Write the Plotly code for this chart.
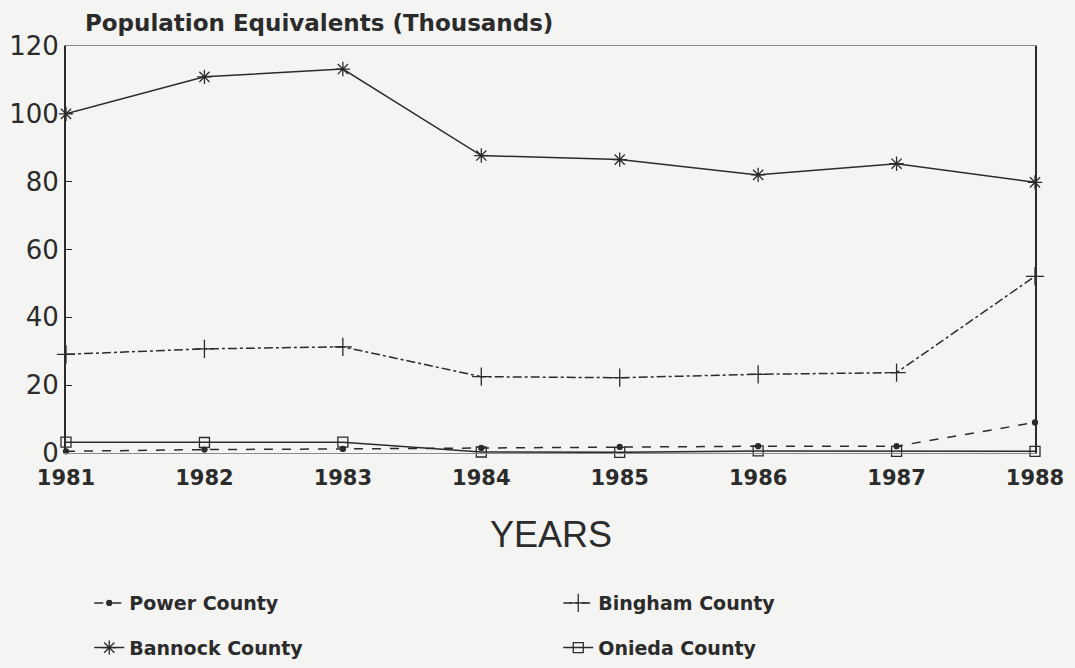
import plotly.graph_objects as go

# values (thousands of population equivalents)
years = [1981, 1982, 1983, 1984, 1985, 1986, 1987, 1988]
power = [0.5, 1.0, 1.2, 1.5, 1.8, 2.0, 2.0, 9.0]
bingham = [29.1, 30.7, 31.3, 22.5, 22.2, 23.2, 23.7, 52.1]
bannock = [100.0, 110.9, 113.2, 87.7, 86.5, 82.0, 85.3, 79.8]
onieda = [3.2, 3.1, 3.2, 0.3, 0.2, 0.6, 0.5, 0.5]
y_ticks = [0, 20, 40, 60, 80, 100, 120]

INK = "#2b2b2b"
PAPER = "#f4f4f2"

fig = go.Figure()

series = [
    # name, values, marker symbol, marker size, dash, legend box
    ("Power County", power, "circle", 5, "dash", "legend"),
    ("Bannock County", bannock, "asterisk-open", 12, "solid", "legend"),
    ("Bingham County", bingham, "cross-thin-open", 13, "dashdot", "legend2"),
    ("Onieda County", onieda, "square-open", 10, "solid", "legend2"),
]
for name, vals, sym, size, dash, leg in series:
    fig.add_trace(go.Scatter(
        x=years, y=vals, mode="lines+markers", name=name,
        legend=leg, legendgroup=name,
        line=dict(color=INK, width=1.5, dash=dash),
        marker=dict(symbol=sym, size=size, color=INK,
                    line=dict(color=INK, width=1.3)),
        cliponaxis=False,
    ))

legend_style = dict(
    orientation="v", traceorder="grouped", tracegroupgap=17,
    xanchor="left", yanchor="top", y=-0.322,
    bgcolor="rgba(0,0,0,0)",
    font=dict(family="DejaVu Sans", size=19, color=INK, weight="bold"),
)

fig.update_layout(
    width=1075, height=668,
    paper_bgcolor=PAPER, plot_bgcolor=PAPER,
    margin=dict(l=66, r=40, t=46, b=215, autoexpand=False),
    title=dict(
        text="<b>Population Equivalents (Thousands)</b>",
        x=0.079, xanchor="left", xref="container",
        y=0.965, yanchor="middle", yref="container",
        font=dict(family="DejaVu Sans", size=23, color=INK),
    ),
    legend=dict(x=0.024, **legend_style),
    legend2=dict(x=0.508, **legend_style),
    annotations=[dict(
        text="YEARS", x=0.501, xref="paper", y=-0.2, yref="paper",
        showarrow=False, yanchor="middle",
        font=dict(family="Liberation Sans", size=36, color=INK),
    )],
)

fig.update_xaxes(
    range=[1981, 1988], tickvals=years, ticks="", tickangle=0,
    ticklabelstandoff=6,
    showgrid=False, zeroline=False,
    showline=True, linecolor="#8a8a8a", linewidth=1, mirror=True,
    tickfont=dict(family="DejaVu Sans", size=21, color=INK, weight="bold"),
)
fig.update_yaxes(
    range=[0, 120], tickvals=y_ticks, ticks="inside", ticklen=6,
    tickcolor=INK, showgrid=False, zeroline=False,
    showline=True, linecolor=INK, linewidth=2, mirror=True,
    tickfont=dict(family="DejaVu Sans", size=26, color=INK),
)

fig.write_html(
    "out.html",
    config={"displayModeBar": False},
    post_script="document.body.style.margin='0';",
)
